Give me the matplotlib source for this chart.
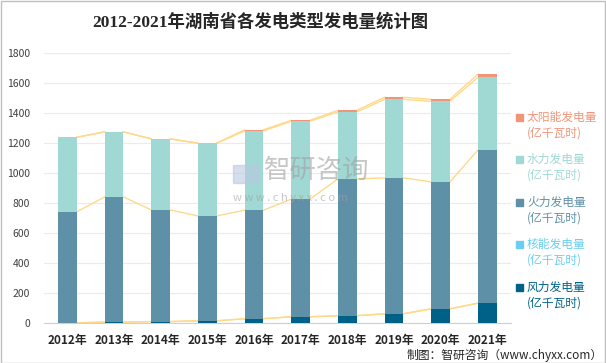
import numpy as np
import matplotlib.pyplot as plt
from matplotlib.patches import Rectangle

plt.rcParams['font.family'] = ['Noto Sans CJK SC', 'DejaVu Sans']

years = ['2012年', '2013年', '2014年', '2015年', '2016年',
         '2017年', '2018年', '2019年', '2020年', '2021年']
wind = [2, 6, 10, 15, 29, 42, 49, 62, 95, 133]
nuclear = [0, 0, 0, 0, 0, 0, 0, 0, 0, 0]
thermal = [740, 836, 745, 700, 724, 785, 913, 907, 847, 1022]
hydro = [498, 434, 474, 485, 529, 520, 447, 524, 538, 485]
solar = [0, 0, 1, 1, 8, 6, 11, 14, 13, 22]

names = ['风力发电量', '核能发电量', '火力发电量', '水力发电量', '太阳能发电量']
series = [wind, nuclear, thermal, hydro, solar]
colors = ['#006188', '#6BCDF0', '#5E90A8', '#A0D8D4', '#F0957A']

fig = plt.figure(figsize=(6.06, 3.63), dpi=100)
ax = fig.add_axes([0.0726, 0.110, 0.770, 0.743])

x = np.arange(len(years))
w = 0.4
bottom = np.zeros(len(years))
for vals, c in zip(series, colors):
    vals = np.array(vals, dtype=float)
    ax.bar(x, vals, w, bottom=bottom, color=c, zorder=3)
    top = bottom + vals
    # connector lines between bars
    for i in range(len(years) - 1):
        ax.plot([x[i] + w / 2, x[i + 1] - w / 2], [top[i], top[i + 1]],
                color='#FFD98A', lw=1, zorder=2)
    bottom = top

ax.set_xlim(-0.5, len(years) - 0.5)
ax.set_ylim(0, 1800)
ax.set_yticks(range(0, 1801, 200))
ax.set_xticks(x)
ax.set_xticklabels(years, fontsize=8.5, fontweight='bold', color='#262626')
ax.tick_params(axis='y', labelsize=7.5, colors='#404040', length=0, pad=10)
ax.tick_params(axis='x', length=0, pad=8)
ax.grid(axis='y', color='#EBEBEB', lw=0.8, zorder=0)
for s in ['top', 'right', 'left']:
    ax.spines[s].set_visible(False)
ax.spines['bottom'].set_color('#D0D0D0')

# title
fig.text(0.43, 0.939, '2012-2021年湖南省各发电类型发电量统计图', ha='center', va='center',
         fontsize=12.5, fontweight='bold', color='#262626',
         family=['Liberation Serif', 'Noto Sans CJK SC'])

# legend, top to bottom
ys = [117, 159, 202, 244, 287]
for k, idx in enumerate([4, 3, 2, 1, 0]):
    yy = 1 - ys[k] / 363
    fig.patches.append(Rectangle((516 / 606, yy - 0.012), 7 / 606, 7 / 363,
                                 transform=fig.transFigure, color=colors[idx]))
    fig.text(527 / 606, yy, names[idx], fontsize=8.5, color=colors[idx], va='center')
    fig.text(527 / 606, yy - 16 / 363, '(亿千瓦时)', fontsize=8.5, color=colors[idx], va='center')

# watermark
fig.text(0.435, 0.53, '智研咨询', fontsize=19, color='#A0A0A0', alpha=0.6, va='center')
fig.text(0.385, 0.455, 'w w w . c h y x x . c o m', fontsize=8, color='#A0A0A0',
         alpha=0.6, va='center')
fig.patches.append(Rectangle((0.385, 0.495), 0.04, 0.05, transform=fig.transFigure,
                             color='#B8C8E0', alpha=0.6))

# source
fig.text(0.995, 0.022, '制图：智研咨询（www.chyxx.com）', fontsize=8.5, color='#262626',
         ha='right', va='center')

fig.patches.append(Rectangle((0.001, 0.001), 0.997, 0.997, transform=fig.transFigure,
                             fill=False, edgecolor='#BFBFBF', lw=1))

fig.savefig('out.png', dpi=100)
